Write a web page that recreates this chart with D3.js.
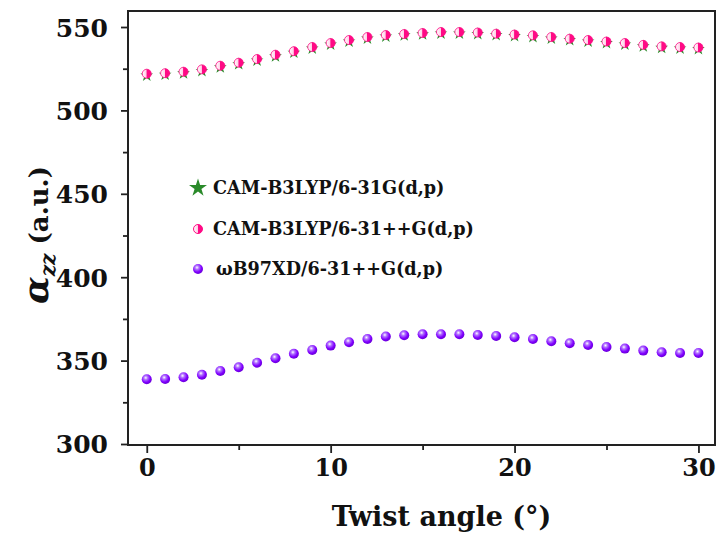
<!DOCTYPE html>
<meta charset="utf-8">
<script src="https://d3js.org/d3.v7.min.js"></script>
<style>
  body { margin: 0; background: #fff; }
  text { font-family: "DejaVu Serif", serif; font-weight: bold; }
</style>
<body>
<div id="chart"></div>
<script>
  // data
  var angles = d3.range(0, 31)
  var camB3lyp631 = [521.5, 522, 522.8, 524.2, 526.4, 528.3, 530.5, 533, 535.2, 537.7, 540.1,
                     541.9, 543.7, 544.9, 545.6, 546.2, 546.7, 546.7, 546.4, 545.8, 545.2,
                     544.6, 543.7, 542.8, 541.9, 541, 540.1, 539, 538.1, 537.7, 537.4]
  var camB3lypPlus = [522, 522.3, 523.2, 524.6, 526.8, 528.6, 530.8, 533.4, 535.5, 538, 540.4,
                      542.2, 544, 545.2, 545.8, 546.4, 547, 547, 546.7, 546, 545.5,
                      545, 544, 543, 542.2, 541.3, 540.4, 539.3, 538.4, 538, 537.7]
  var wb97xd = [338.8, 339, 340, 341.5, 343.8, 346, 348.7, 351.4, 354.1, 356.4, 359,
                361, 363, 364.5, 365.2, 365.8, 365.8, 365.8, 365.4, 364.8, 364,
                362.9, 361.6, 360.4, 359.4, 358.2, 357.2, 356, 355, 354.6, 354.6]
  var seriesNames = ["CAM-B3LYP/6-31G(d,p)", "CAM-B3LYP/6-31++G(d,p)", "\u03c9B97XD/6-31++G(d,p)"]
  var xTicks = [0, 10, 20, 30]
  var yTicks = [300, 350, 400, 450, 500, 550]

  var width = 718, height = 543
  var plotL = 128, plotR = 715, plotT = 11, plotB = 445

  var svg = d3.select("#chart").append("svg")
    .attr("width", width).attr("height", height)

  var defs = svg.append("defs")
  var gp = defs.append("radialGradient").attr("id", "ball").attr("cx", "40%").attr("cy", "35%").attr("r", "65%")
  gp.append("stop").attr("offset", "0%").attr("stop-color", "#ffffff")
  gp.append("stop").attr("offset", "30%").attr("stop-color", "#b070ff")
  gp.append("stop").attr("offset", "70%").attr("stop-color", "#8000ff")
  gp.append("stop").attr("offset", "100%").attr("stop-color", "#6a00d8")
  var gh = defs.append("linearGradient").attr("id", "half").attr("x1", "0").attr("x2", "1")
  gh.append("stop").attr("offset", "0%").attr("stop-color", "#ffffff")
  gh.append("stop").attr("offset", "45%").attr("stop-color", "#ffd0e6")
  gh.append("stop").attr("offset", "50%").attr("stop-color", "#ff0a85")
  gh.append("stop").attr("offset", "100%").attr("stop-color", "#ff0a85")

  var x = d3.scaleLinear().domain([-1.02, 30.9]).range([plotL, plotR])
  var y = d3.scaleLinear().domain([299.4, 559.6]).range([plotB, plotT])

  // minor ticks
  svg.append("g").attr("transform", "translate(0," + plotB + ")")
    .call(d3.axisBottom(x).tickValues([5, 15, 25]).tickSize(5).tickFormat(""))
  svg.append("g").attr("transform", "translate(" + plotL + ",0)")
    .call(d3.axisLeft(y).tickValues([325, 375, 425, 475, 525]).tickSize(5).tickFormat(""))

  // major ticks
  var xAxis = svg.append("g").attr("transform", "translate(0," + plotB + ")")
    .call(d3.axisBottom(x).tickValues(xTicks).tickSize(8).tickPadding(6))
  var yAxis = svg.append("g").attr("transform", "translate(" + plotL + ",0)")
    .call(d3.axisLeft(y).tickValues(yTicks).tickSize(7).tickPadding(13))

  svg.selectAll(".domain").remove()
  svg.selectAll(".tick line").attr("stroke", "#222").attr("stroke-width", 1.8)
  xAxis.selectAll("text").style("font-size", "24px").attr("fill", "#111")
  yAxis.selectAll("text").style("font-size", "25px").attr("fill", "#111").attr("dy", "0.36em")

  // frame
  svg.append("rect")
    .attr("x", plotL).attr("y", plotT)
    .attr("width", plotR - plotL).attr("height", plotB - plotT)
    .attr("fill", "none").attr("stroke", "#222").attr("stroke-width", 2)

  var star = d3.symbol().type(d3.symbolStar).size(50)

  // series 1: green stars
  svg.append("g").selectAll("path")
    .data(angles)
    .join("path")
    .attr("d", star)
    .attr("transform", function(d, i) { return "translate(" + x(d) + "," + (y(camB3lyp631[i]) + 1) + ")" })
    .attr("fill", "#2a8a2a")

  // series 2: pink half circles
  svg.append("g").selectAll("circle")
    .data(angles)
    .join("circle")
    .attr("cx", function(d) { return x(d) })
    .attr("cy", function(d, i) { return y(camB3lypPlus[i]) })
    .attr("r", 4.5)
    .attr("fill", "url(#half)")
    .attr("stroke", "#ff0a85").attr("stroke-width", 0.8)

  // series 3: purple balls
  svg.append("g").selectAll("circle")
    .data(angles)
    .join("circle")
    .attr("cx", function(d) { return x(d) })
    .attr("cy", function(d, i) { return y(wb97xd[i]) })
    .attr("r", 5)
    .attr("fill", "url(#ball)")

  // legend
  var legY = [188, 229, 269]
  var leg = svg.append("g")
  leg.append("path").attr("d", d3.symbol().type(d3.symbolStar).size(100))
    .attr("transform", "translate(198," + legY[0] + ")").attr("fill", "#2a8a2a")
  leg.append("circle").attr("cx", 198).attr("cy", legY[1]).attr("r", 4.5)
    .attr("fill", "url(#half)").attr("stroke", "#ff0a85").attr("stroke-width", 1)
  leg.append("circle").attr("cx", 198).attr("cy", legY[2]).attr("r", 5)
    .attr("fill", "url(#ball)")
  leg.selectAll("text")
    .data(seriesNames)
    .join("text")
    .attr("x", function(d, i) { return i == 2 ? 216 : 213 })
    .attr("y", function(d, i) { return legY[i] })
    .attr("dy", "0.35em")
    .style("font-size", "17.6px")
    .attr("fill", "#111")
    .text(function(d) { return d })

  // axis titles
  svg.append("text")
    .attr("x", (plotL + plotR) / 2 + 20).attr("y", 526)
    .attr("text-anchor", "middle")
    .style("font-size", "27px")
    .attr("fill", "#111")
    .text("Twist angle (\u00b0)")

  var yt = svg.append("text")
    .attr("transform", "translate(48,235) rotate(-90)")
    .attr("text-anchor", "middle")
    .attr("fill", "#111")
  yt.append("tspan").style("font-size", "36px").style("font-style", "italic").text("\u03b1")
  yt.append("tspan").style("font-size", "20px").style("font-style", "italic").attr("dy", 7).text("zz")
  yt.append("tspan").style("font-size", "26px").attr("dy", -7).text(" (a.u.)")
</script>
</body>
